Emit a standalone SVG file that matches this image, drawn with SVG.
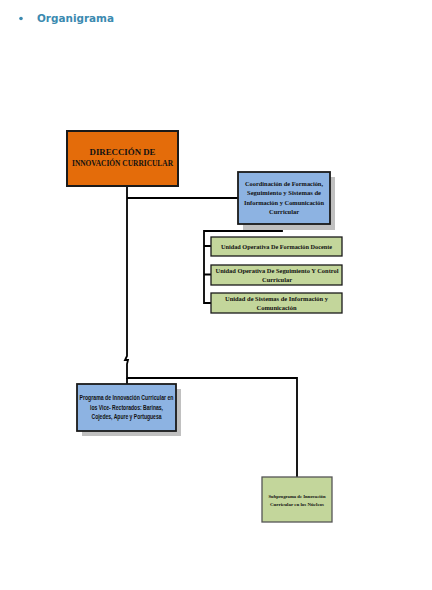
<svg xmlns="http://www.w3.org/2000/svg" width="432" height="590" viewBox="0 0 432 590">
<style>
.conn{fill:none;stroke:#000;stroke-width:1.8}
.shadow{fill:#c0c0c0}
.orange{fill:#e46c0a;stroke:#1a1a1a;stroke-width:2}
.blue{fill:#8db3e2;stroke:#1a1a1a;stroke-width:1.8}
.green{fill:#c3d69b;stroke:#1a1a1a;stroke-width:1.3}
.green2{fill:#c3d69b;stroke:#555;stroke-width:1.3}
.serif{font-family:"Liberation Serif","Times New Roman",serif;font-weight:bold;fill:#111;text-anchor:middle}
.sans{font-family:"Liberation Sans",Arial,sans-serif;font-weight:bold;fill:#111;text-anchor:middle}
</style>
<rect width="432" height="590" fill="#fff"/>
<g id="header">
<circle cx="21" cy="18.5" r="1.8" fill="#3b8ab0"/>
<text x="37" y="22" font-family="'DejaVu Sans',Verdana,sans-serif" font-weight="bold" font-size="11" fill="#3b8ab0" textLength="77" lengthAdjust="spacingAndGlyphs">Organigrama</text>
</g>
<g id="connectors">
<path class="conn" d="M127,186 V356 l-2,4 l3,0 l-1,4 V378 H297 V477"/>
<path class="conn" d="M127,198 H238"/>
<path class="conn" d="M127,378 V384"/>
<path class="conn" d="M282,224 V231 H204 V303 H211"/>
<path class="conn" d="M204,246 H211 M204,274.5 H211"/>
</g>
<g id="direccion">
<rect class="orange" x="67" y="131" width="111" height="55"/>
<text class="serif" font-size="7.5" x="122.5" y="155" textLength="66" lengthAdjust="spacingAndGlyphs">DIRECCIÓN  DE</text>
<text class="serif" font-size="7.5" x="122.5" y="166" textLength="101" lengthAdjust="spacingAndGlyphs">INNOVACIÓN CURRICULAR</text>
</g>
<g id="coordinacion">
<rect class="shadow" x="243" y="177" width="92" height="53"/>
<rect class="blue" x="238" y="172" width="92" height="52"/>
<text class="serif" font-size="7" x="284" y="186" textLength="78" lengthAdjust="spacingAndGlyphs">Coordinación de Formación,</text>
<text class="serif" font-size="7" x="284" y="195" textLength="74" lengthAdjust="spacingAndGlyphs">Seguimiento y Sistemas de</text>
<text class="serif" font-size="7" x="284" y="204.5" textLength="80" lengthAdjust="spacingAndGlyphs">Información y Comunicación</text>
<text class="serif" font-size="7" x="284" y="214" textLength="30" lengthAdjust="spacingAndGlyphs">Curricular</text>
</g>
<g id="unidad-formacion">
<rect class="green" x="211" y="237" width="131" height="19"/>
<text class="serif" font-size="6.5" x="276.5" y="248.5" textLength="111" lengthAdjust="spacingAndGlyphs">Unidad Operativa De Formación Docente</text>
</g>
<g id="unidad-seguimiento">
<rect class="green" x="211" y="265" width="131" height="20"/>
<text class="serif" font-size="6.5" x="277" y="273" textLength="123" lengthAdjust="spacingAndGlyphs">Unidad Operativa De Seguimiento Y Control</text>
<text class="serif" font-size="6.5" x="277" y="282" textLength="30" lengthAdjust="spacingAndGlyphs">Curricular</text>
</g>
<g id="unidad-sistemas">
<rect class="green" x="211" y="293" width="131" height="20"/>
<text class="serif" font-size="6.5" x="276.5" y="301" textLength="103" lengthAdjust="spacingAndGlyphs">Unidad de Sistemas de Información y</text>
<text class="serif" font-size="6.5" x="276.5" y="310" textLength="40" lengthAdjust="spacingAndGlyphs">Comunicación</text>
</g>
<g id="programa">
<rect class="shadow" x="82" y="389" width="99" height="47"/>
<rect class="blue" x="77" y="384" width="99" height="47"/>
<text class="sans" font-size="6.3" x="126.5" y="400" textLength="94" lengthAdjust="spacingAndGlyphs">Programa de Innovación Curricular en</text>
<text class="sans" font-size="6.3" x="126.5" y="409.5" textLength="73" lengthAdjust="spacingAndGlyphs">los Vice- Rectorados: Barinas,</text>
<text class="sans" font-size="6.3" x="126.5" y="419" textLength="70" lengthAdjust="spacingAndGlyphs">Cojedes, Apure y Portuguesa</text>
</g>
<g id="subprograma">
<rect class="green2" x="262" y="477" width="70" height="45"/>
<text class="serif" font-size="5" x="297" y="497.5" textLength="57" lengthAdjust="spacingAndGlyphs">Subprograma de Innovación</text>
<text class="serif" font-size="5" x="297" y="506" textLength="54" lengthAdjust="spacingAndGlyphs">Curricular en los Núcleos</text>
</g>
</svg>
